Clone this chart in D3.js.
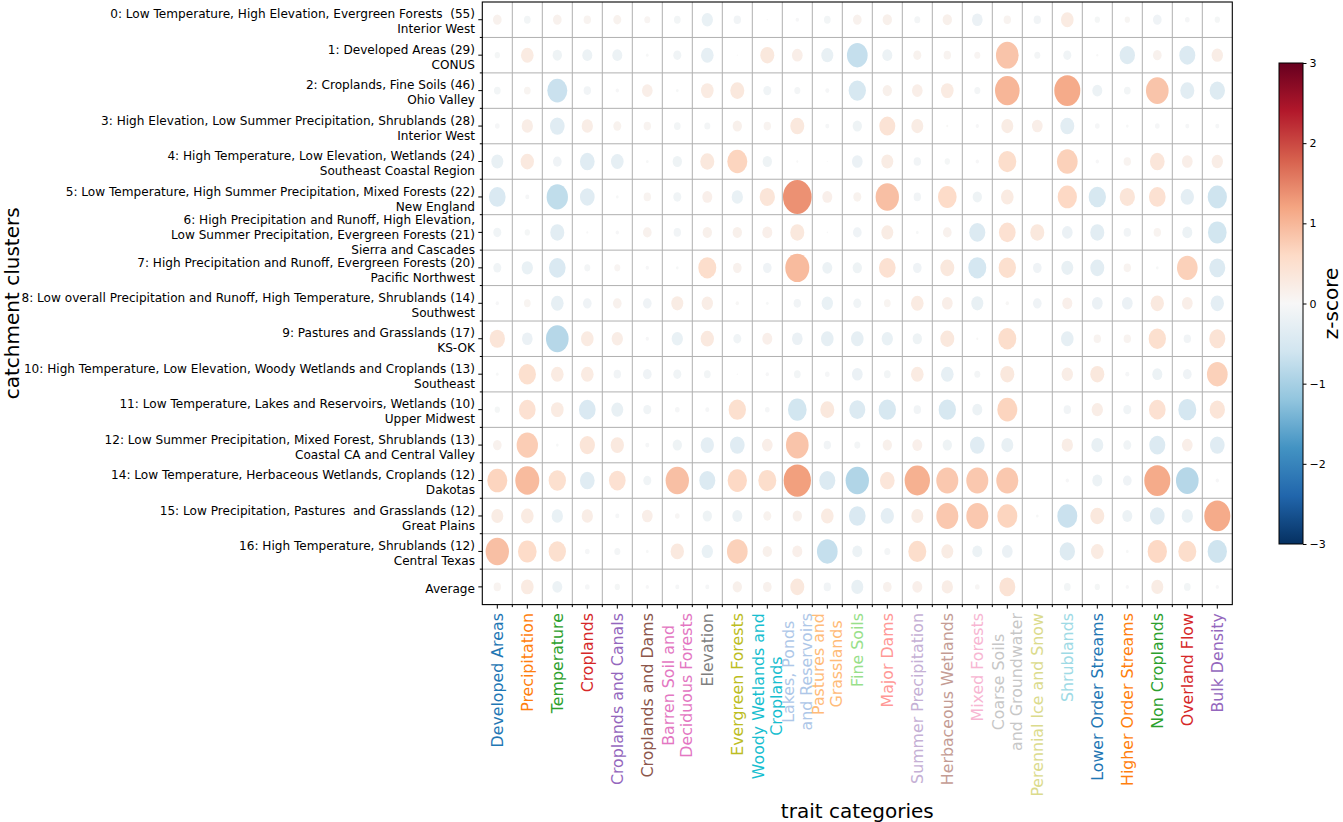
<!DOCTYPE html>
<html><head><meta charset="utf-8">
<script src="https://cdn.jsdelivr.net/npm/d3@7/dist/d3.min.js"></script>
<style>body{margin:0;background:#fff;} svg{display:block;} text{font-family:"DejaVu Sans",sans-serif;}</style>
</head><body>
<svg id="chart" width="1343" height="822"></svg>
<script>
// ---------- data ----------
const traits = ["Developed Areas","Precipitation","Temperature","Croplands","Croplands and Canals","Croplands and Dams",
  "Barren Soil and\nDeciduous Forests","Elevation","Evergreen Forests","Woody Wetlands and\nCroplands",
  "Lakes, Ponds\nand Reservoirs","Pastures and\nGrasslands","Fine Soils","Major Dams","Summer Precipitation",
  "Herbaceous Wetlands","Mixed Forests","Coarse Soils\nand Groundwater","Perennial Ice and Snow","Shrublands",
  "Lower Order Streams","Higher Order Streams","Non Croplands","Overland Flow","Bulk Density"];
const traitColors = ["#1f77b4","#ff7f0e","#2ca02c","#d62728","#9467bd","#8c564b","#e377c2","#7f7f7f","#bcbd22","#17becf",
  "#aec7e8","#ffbb78","#98df8a","#ff9896","#c5b0d5","#c49c94","#f7b6d2","#c7c7c7","#dbdb8d","#9edae5",
  "#1f77b4","#ff7f0e","#2ca02c","#d62728","#9467bd"];
const clusters = [
  "0: Low Temperature, High Elevation, Evergreen Forests  (55)\nInterior West",
  "1: Developed Areas (29)\nCONUS",
  "2: Croplands, Fine Soils (46)\nOhio Valley",
  "3: High Elevation, Low Summer Precipitation, Shrublands (28)\nInterior West",
  "4: High Temperature, Low Elevation, Wetlands (24)\nSoutheast Coastal Region",
  "5: Low Temperature, High Summer Precipitation, Mixed Forests (22)\nNew England",
  "6: High Precipitation and Runoff, High Elevation,\nLow Summer Precipitation, Evergreen Forests (21)\nSierra and Cascades",
  "7: High Precipitation and Runoff, Evergreen Forests (20)\nPacific Northwest",
  "8: Low overall Precipitation and Runoff, High Temperature, Shrublands (14)\nSouthwest",
  "9: Pastures and Grasslands (17)\nKS-OK",
  "10: High Temperature, Low Elevation, Woody Wetlands and Croplands (13)\nSoutheast",
  "11: Low Temperature, Lakes and Reservoirs, Wetlands (10)\nUpper Midwest",
  "12: Low Summer Precipitation, Mixed Forest, Shrublands (13)\nCoastal CA and Central Valley",
  "14: Low Temperature, Herbaceous Wetlands, Croplands (12)\nDakotas",
  "15: Low Precipitation, Pastures  and Grasslands (12)\nGreat Plains",
  "16: High Temperature, Shrublands (12)\nCentral Texas",
  "Average"];
// z-scores per cluster (null = not available)
const z0  = [0.125,-0.074,0.125,0.09,0.107,0.06,-0.074,-0.214,-0.09,-0.003,-0.02,-0.074,0.125,0.145,-0.06,0.145,-0.19,0.09,-0.09,0.267,-0.047,0.047,-0.125,-0.036,-0.047];
const z1  = [-0.047,0.267,-0.145,-0.167,-0.167,-0.012,-0.107,-0.267,0.002,0.327,0.19,-0.24,-0.712,-0.167,0.107,0.09,0.06,0.856,-0.06,-0.107,-0.007,-0.392,0.125,-0.427,0.214];
const z2  = [-0.074,0.074,-0.667,-0.09,-0.019,0.19,-0.012,0.267,0.327,-0.107,-0.06,-0.027,-0.5,0.145,0.19,0.267,-0.06,1.01,null,1.13,-0.167,-0.074,0.856,-0.327,-0.392];
const z3  = [-0.036,0.214,-0.359,0.214,0.107,0.09,-0.074,-0.06,0.145,0.09,0.327,-0.027,-0.145,0.427,0.24,0.007,-0.019,0.24,0.19,-0.327,-0.036,-0.012,-0.036,-0.027,-0.027];
const z4  = [-0.24,0.296,-0.125,-0.359,-0.267,-0.012,-0.145,0.327,0.667,-0.145,-0.007,-0.002,-0.19,0.24,-0.09,-0.047,-0.019,0.54,null,0.712,-0.019,0.09,0.359,0.19,0.214];
const z5  = [-0.463,-0.027,-0.758,-0.359,-0.012,0.09,-0.107,0.167,-0.214,0.392,1.37,0.167,0.107,0.907,-0.09,0.58,-0.145,0.267,null,0.62,-0.5,0.392,0.463,-0.296,-0.62];
const z6  = [-0.107,-0.047,-0.327,-0.007,-0.019,0.125,-0.09,0.145,0.145,0.167,0.327,-0.003,-0.125,0.24,-0.012,0.125,-0.427,0.463,0.327,-0.19,-0.327,-0.09,0.09,-0.167,-0.58];
const z7  = [-0.107,-0.214,-0.463,-0.06,0.06,-0.019,-0.012,0.54,0.125,-0.125,0.96,-0.167,-0.145,0.463,-0.125,0.327,-0.54,0.5,-0.125,-0.24,-0.327,0.09,-0.012,0.712,-0.427];
const z8  = [-0.019,0.074,-0.267,-0.125,0.125,-0.125,0.24,0.214,0.019,-0.012,-0.09,-0.214,-0.107,0.074,0.267,0.19,-0.24,0.019,-0.125,0.167,-0.19,-0.19,0.296,0.19,-0.296];
const z9  = [0.392,-0.19,-0.856,0.267,0.214,-0.019,-0.214,0.296,-0.107,0.167,-0.19,-0.267,-0.267,-0.214,-0.145,0.327,0.007,0.54,null,-0.267,0.09,0.09,0.5,-0.09,0.427];
const z10 = [-0.012,0.5,0.267,0.267,-0.09,-0.125,-0.107,-0.074,-0.003,-0.019,-0.074,-0.036,-0.19,-0.074,0.267,-0.267,-0.06,0.327,null,0.214,0.327,-0.027,-0.167,-0.125,0.712];
const z11 = [-0.047,0.463,0.267,-0.463,-0.24,-0.107,-0.036,-0.027,0.5,-0.036,-0.58,0.327,-0.427,-0.5,-0.09,-0.5,-0.167,0.667,null,-0.09,0.214,-0.107,0.463,-0.54,0.392];
const z12 = [0.125,0.758,-0.012,0.392,0.296,-0.027,-0.145,-0.296,-0.359,0.19,0.856,-0.09,-0.06,0.145,0.167,-0.145,-0.359,-0.24,null,0.214,-0.24,-0.107,-0.427,0.19,-0.359];
const z14 = [0.667,0.96,0.5,-0.359,0.463,-0.107,0.907,-0.427,0.62,0.54,1.245,-0.427,-0.907,0.359,1.07,0.807,0.807,0.807,null,-0.019,-0.167,-0.125,1.13,-0.856,-0.019];
const z15 = [0.24,0.267,-0.214,0.214,-0.027,0.19,0.036,-0.145,-0.167,0.107,0.145,0.267,-0.463,-0.296,0.24,0.807,0.807,0.667,-0.012,-0.667,0.327,-0.167,-0.359,-0.214,1.13];
const z16 = [0.907,0.58,0.5,-0.036,-0.06,-0.012,0.296,-0.214,0.712,0.145,0.167,-0.712,-0.167,-0.06,0.54,0.24,-0.167,-0.19,null,-0.392,0.267,-0.012,0.62,0.54,-0.62];
const zAvg = [0.09,0.267,-0.167,-0.036,-0.047,-0.019,-0.027,-0.027,0.145,0.125,0.327,-0.09,-0.24,0.125,0.167,0.214,0.036,0.427,null,-0.074,-0.047,-0.019,0.24,-0.074,-0.019];
const zRows = [z0,z1,z2,z3,z4,z5,z6,z7,z8,z9,z10,z11,z12,z14,z15,z16,zAvg];
const cbarTicks = [-3,-2,-1,0,1,2,3];
const rdbu = ["#053061","#2166ac","#4393c3","#92c5de","#d1e5f0","#f7f7f7","#fddbc7","#f4a582","#d6604d","#b2182b","#67001f"];

// ---------- chart ----------
const svg = d3.select("#chart");
const L = 482.3, R = 1232.3, T = 2, B = 604.6;
const x = d3.scaleBand().domain(d3.range(traits.length)).range([L, R]);
const y = d3.scaleBand().domain(d3.range(clusters.length)).range([T, B]);
const size = d3.scaleSqrt().domain([0, 1.5]).range([0, 1]);
const color = d3.scaleLinear().domain(rdbu.map((c,i)=>-3 + 0.6*i)).range(rdbu).interpolate(d3.interpolateRgb).clamp(true);

// grid
const grid = svg.append("g").attr("stroke","#b0b0b0").attr("stroke-width",1);
d3.range(1, traits.length).forEach(i => grid.append("line").attr("x1", x(i)).attr("x2", x(i)).attr("y1", T).attr("y2", B));
d3.range(1, clusters.length).forEach(i => grid.append("line").attr("y1", y(i)).attr("y2", y(i)).attr("x1", L).attr("x2", R));

// ellipses
const cells = [];
zRows.forEach((row, r) => row.forEach((v, c) => { if (v !== null) cells.push({r, c, v}); }));
svg.append("g").selectAll("ellipse").data(cells).join("ellipse")
  .attr("cx", d => x(d.c) + x.bandwidth()/2)
  .attr("cy", d => y(d.r) + y.bandwidth()/2)
  .attr("rx", d => x.bandwidth()/2 * size(Math.abs(d.v)))
  .attr("ry", d => y.bandwidth()/2 * size(Math.abs(d.v)))
  .attr("fill", d => color(d.v));

// frame
svg.append("rect").attr("x", L).attr("y", T).attr("width", R-L).attr("height", B-T)
  .attr("fill","none").attr("stroke","#000").attr("stroke-width",1.1);

// ticks
const yAxis = d3.axisLeft(y).tickSize(4).tickFormat("");
svg.append("g").attr("transform",`translate(${L},0)`).call(yAxis).call(g=>g.select(".domain").remove());
const xAxis = d3.axisBottom(x).tickSize(4).tickFormat("");
svg.append("g").attr("transform",`translate(0,${B})`).call(xAxis).call(g=>g.select(".domain").remove());
const minor = svg.append("g").attr("stroke","#000").attr("stroke-width",1);
d3.range(1, clusters.length).forEach(i => minor.append("line").attr("x1", L-2.5).attr("x2", L).attr("y1", y(i)).attr("y2", y(i)));
d3.range(1, traits.length).forEach(i => minor.append("line").attr("y1", B).attr("y2", B+2.5).attr("x1", x(i)).attr("x2", x(i)));

// y labels
clusters.forEach((lab, i) => {
  const lines = lab.split("\n");
  const cy = y(i) + y.bandwidth()/2 + 2;
  const t = svg.append("text").attr("text-anchor","end").attr("font-size",12.1).attr("fill","#000").style("white-space","pre");
  lines.forEach((ln, j) => t.append("tspan").attr("x", 475).attr("y", cy + (j - (lines.length-1)/2)*15).attr("dy","0.35em").text(ln));
});

// x labels
traits.forEach((lab, i) => {
  const lines = lab.split("\n");
  const cx = x(i) + x.bandwidth()/2;
  const g = svg.append("g").attr("transform",`translate(${cx},${B+8.5}) rotate(-90)`);
  const t = g.append("text").attr("font-size",15.8).attr("fill",traitColors[i]).attr("text-anchor","middle");
  const spans = lines.map((ln, j) => t.append("tspan").attr("y", (j - (lines.length-1)/2)*17.5).attr("dy","0.35em").text(ln));
  const maxW = d3.max(spans, s => s.node().getComputedTextLength());
  spans.forEach(s => s.attr("x", -maxW/2));
});

// axis titles
svg.append("text").attr("x", (L+R)/2).attr("y", 818).attr("text-anchor","middle").attr("font-size",20).text("trait categories");
svg.append("text").attr("transform",`translate(18.5,${(T+B)/2}) rotate(-90)`).attr("text-anchor","middle").attr("font-size",20).text("catchment clusters");

// colorbar
const cbX = 1279, cbW = 24, cbT = 63, cbB = 544;
const cy2 = d3.scaleLinear().domain([-3,3]).range([cbB, cbT]);
const grad = svg.append("defs").append("linearGradient").attr("id","cbg").attr("x1",0).attr("y1",1).attr("x2",0).attr("y2",0);
rdbu.forEach((c,i)=> grad.append("stop").attr("offset", i/10).attr("stop-color", c));
svg.append("rect").attr("x", cbX).attr("y", cbT).attr("width", cbW).attr("height", cbB-cbT).attr("fill","url(#cbg)")
  .attr("stroke","#000").attr("stroke-width",1);
const cAxis = d3.axisRight(cy2).tickValues(cbarTicks).tickSize(3.5).tickPadding(3).tickFormat(d3.format("d"));
svg.append("g").attr("transform",`translate(${cbX+cbW},0)`).call(cAxis)
  .call(g=>g.select(".domain").remove())
  .call(g=>g.selectAll("text").attr("font-size",11).attr("font-family","DejaVu Sans"));
svg.append("text").attr("transform",`translate(1338,${(cbT+cbB)/2}) rotate(-90)`).attr("text-anchor","middle")
  .attr("font-size",20).text("z-score");
</script>
</body></html>
